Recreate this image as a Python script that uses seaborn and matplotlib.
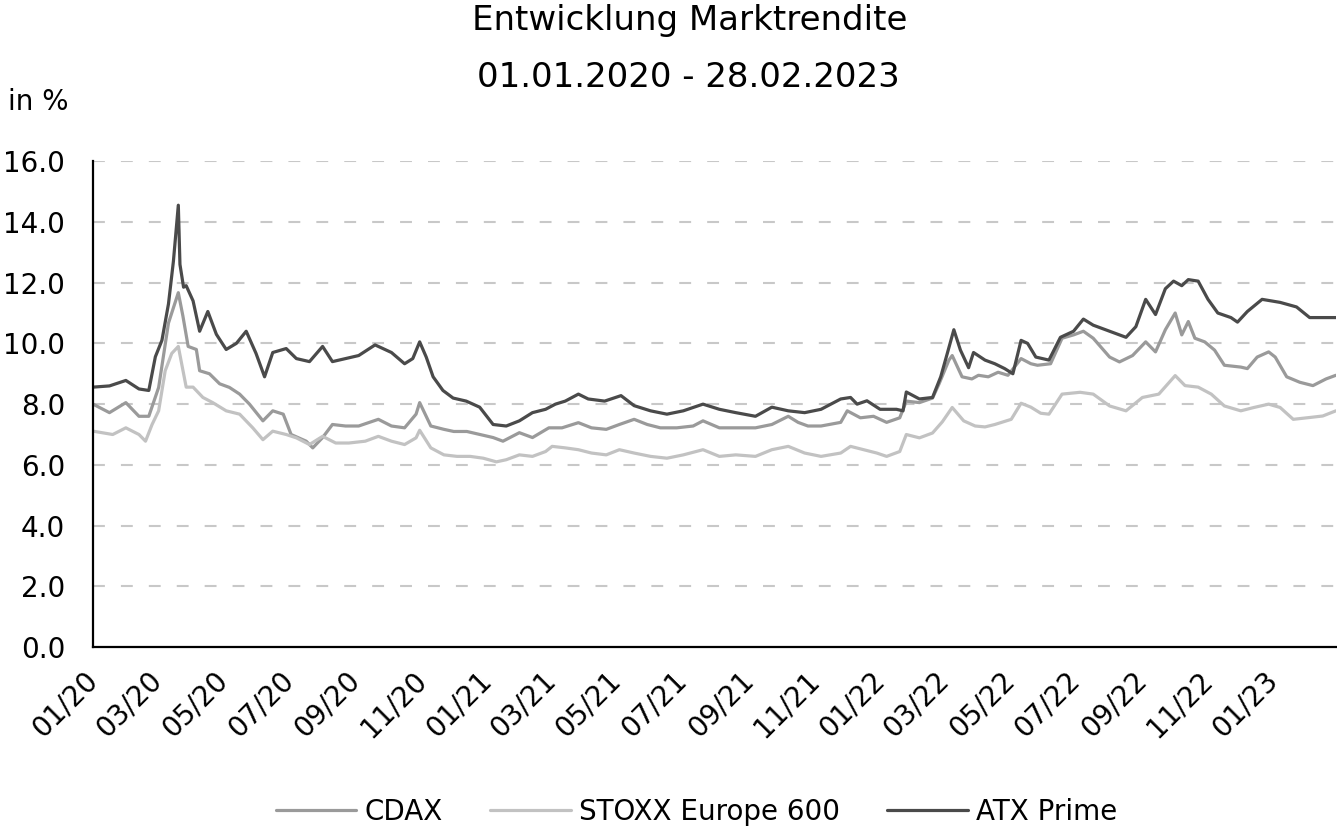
import numpy as np
import pandas as pd
import matplotlib
matplotlib.use("Agg")
import matplotlib.pyplot as plt
import matplotlib.dates as mdates
import seaborn as sns

# months since 01.01.2020 and yield in %
atx_months = [0.0, 0.5, 1.0, 1.4, 1.7, 1.9, 2.1, 2.3, 2.45, 2.6, 2.65, 2.76, 2.84, 3.05, 3.25,
              3.5, 3.76, 4.06, 4.37, 4.67, 4.97, 5.23, 5.48, 5.89, 6.2, 6.6, 7.0, 7.3, 7.7,
              8.1, 8.6, 9.1, 9.5, 9.75, 9.96, 10.16, 10.37, 10.67, 10.98, 11.38, 11.79, 12.2,
              12.6, 13.0, 13.4, 13.8, 14.1, 14.4, 14.8, 15.1, 15.6, 16.1, 16.5, 17.0, 17.5,
              18.0, 18.6, 19.1, 19.6, 20.2, 20.7, 21.2, 21.7, 22.2, 22.8, 23.1, 23.3, 23.6,
              24.0, 24.5, 24.7, 24.8, 25.2, 25.6, 25.85, 26.05, 26.25, 26.45, 26.7, 26.85,
              27.2, 27.5, 27.8, 28.05, 28.3, 28.5, 28.75, 29.15, 29.5, 29.9, 30.2, 30.5, 31.0,
              31.5, 31.8, 32.1, 32.4, 32.7, 32.95, 33.2, 33.4, 33.7, 34.0, 34.3, 34.7, 34.9,
              35.2, 35.65, 36.2, 36.7, 37.1, 37.5, 37.9]
atx_values = [8.56, 8.6, 8.78, 8.5, 8.45, 9.56, 10.1, 11.3, 12.7, 14.55, 12.6, 11.85, 11.9, 11.4, 10.4,
              11.05, 10.3, 9.8, 10.0, 10.4, 9.67, 8.9, 9.7, 9.83, 9.5, 9.4, 9.9, 9.4, 9.5,
              9.6, 9.95, 9.7, 9.33, 9.5, 10.05, 9.55, 8.9, 8.45, 8.2, 8.1, 7.9, 7.33,
              7.28, 7.45, 7.72, 7.83, 8.0, 8.1, 8.33, 8.17, 8.1, 8.28, 7.95, 7.78, 7.67,
              7.78, 8.0, 7.83, 7.72, 7.6, 7.9, 7.78, 7.72, 7.83, 8.17, 8.22, 8.0, 8.11,
              7.83, 7.83, 7.78, 8.4, 8.17, 8.22, 8.9, 9.67, 10.45, 9.78, 9.2, 9.7,
              9.45, 9.33, 9.17, 9.0, 10.1, 10.0, 9.55, 9.45, 10.2, 10.4, 10.8, 10.6, 10.4,
              10.2, 10.55, 11.45, 10.95, 11.8, 12.05, 11.9, 12.1, 12.05, 11.45, 11.0, 10.85, 10.7,
              11.05, 11.45, 11.35, 11.2, 10.85, 10.85, 10.85]

cdax_months = [0.0, 0.5, 1.0, 1.4, 1.7, 2.0, 2.3, 2.6, 2.74, 2.9, 3.15, 3.25, 3.55, 3.86, 4.16,
               4.47, 4.77, 5.18, 5.48, 5.8, 6.04, 6.5, 6.7, 7.0, 7.3, 7.7, 8.1, 8.7, 9.1, 9.5,
               9.85, 9.96, 10.3, 10.7, 11.0, 11.4, 11.8, 12.2, 12.5, 13.0, 13.4, 13.9, 14.3,
               14.8, 15.2, 15.65, 16.05, 16.5, 16.9, 17.3, 17.8, 18.3, 18.6, 19.1, 19.6, 20.2,
               20.7, 21.2, 21.5, 21.8, 22.2, 22.8, 23.0, 23.4, 23.8, 24.2, 24.6, 24.8, 25.2,
               25.6, 25.8, 26.1, 26.2, 26.5, 26.8, 27.0, 27.3, 27.6, 27.9, 28.3, 28.6, 28.8,
               29.2, 29.55, 29.9, 30.2, 30.5, 31.0, 31.3, 31.7, 32.1, 32.4, 32.7, 33.0, 33.2,
               33.4, 33.6, 33.9, 34.2, 34.5, 35.0, 35.2, 35.5, 35.85, 36.05, 36.4, 36.8, 37.2,
               37.6, 37.9]
cdax_values = [8.0, 7.72, 8.05, 7.6, 7.6, 8.55, 10.67, 11.67, 10.9, 9.9, 9.8, 9.1, 9.0, 8.67, 8.55,
               8.33, 8.0, 7.45, 7.78, 7.67, 7.0, 6.78, 6.56, 6.9, 7.33, 7.28, 7.28, 7.5, 7.28, 7.22,
               7.67, 8.05, 7.28, 7.17, 7.1, 7.1, 7.0, 6.9, 6.78, 7.06, 6.9, 7.22, 7.22,
               7.39, 7.22, 7.17, 7.33, 7.5, 7.33, 7.22, 7.22, 7.28, 7.45, 7.22, 7.22, 7.22,
               7.33, 7.6, 7.4, 7.28, 7.28, 7.4, 7.78, 7.55, 7.6, 7.4, 7.55, 8.1, 8.05,
               8.2, 8.67, 9.45, 9.6, 8.9, 8.83, 8.95, 8.9, 9.05, 8.95, 9.5, 9.33, 9.28,
               9.33, 10.17, 10.28, 10.4, 10.17, 9.55, 9.39, 9.6, 10.05, 9.72, 10.45, 11.0, 10.28,
               10.72, 10.17, 10.05, 9.78, 9.28, 9.22, 9.17, 9.55, 9.72, 9.55, 8.9, 8.72, 8.61,
               8.83, 8.95]

stoxx_months = [0.0, 0.6, 1.0, 1.4, 1.6, 1.8, 2.0, 2.2, 2.4, 2.6, 2.84, 3.05, 3.35, 3.65, 4.06,
                4.47, 4.87, 5.18, 5.48, 5.89, 6.2, 6.6, 7.0, 7.4, 7.8, 8.3, 8.7, 9.1, 9.5, 9.85,
                9.96, 10.3, 10.7, 11.1, 11.5, 11.9, 12.3, 12.6, 13.0, 13.4, 13.8, 14.0, 14.4,
                14.8, 15.2, 15.65, 16.05, 16.5, 17.0, 17.5, 18.0, 18.6, 19.1, 19.6, 20.2, 20.7,
                21.2, 21.7, 22.2, 22.8, 23.1, 23.5, 23.9, 24.2, 24.6, 24.8, 25.2, 25.6, 25.9,
                26.2, 26.55, 26.9, 27.2, 27.5, 28.0, 28.3, 28.6, 28.9, 29.15, 29.55, 30.1, 30.5,
                31.0, 31.5, 32.0, 32.5, 33.0, 33.3, 33.7, 34.1, 34.5, 35.0, 35.4, 35.85, 36.2,
                36.6, 37.1, 37.5, 37.9]
stoxx_values = [7.11, 7.0, 7.22, 7.0, 6.78, 7.33, 7.78, 9.1, 9.67, 9.9, 8.56, 8.56, 8.22, 8.05, 7.78,
                7.67, 7.22, 6.83, 7.11, 7.0, 6.89, 6.67, 6.94, 6.72, 6.72, 6.78, 6.94, 6.78, 6.67, 6.89,
                7.14, 6.56, 6.33, 6.28, 6.28, 6.22, 6.1, 6.17, 6.33, 6.28, 6.44, 6.61, 6.56,
                6.5, 6.39, 6.33, 6.5, 6.39, 6.28, 6.22, 6.33, 6.5, 6.28, 6.33, 6.28, 6.5,
                6.61, 6.39, 6.28, 6.39, 6.61, 6.5, 6.39, 6.28, 6.44, 7.0, 6.89, 7.05, 7.42,
                7.89, 7.45, 7.28, 7.25, 7.33, 7.5, 8.03, 7.9, 7.7, 7.67, 8.33, 8.39, 8.33,
                7.94, 7.78, 8.22, 8.33, 8.94, 8.61, 8.56, 8.33, 7.94, 7.78, 7.89, 8.0, 7.89,
                7.5, 7.56, 7.61, 7.78]

series_names = ["CDAX", "STOXX Europe 600", "ATX Prime"]
series_colors = ["#9a9a9a", "#c2c2c2", "#4a4a4a"]

start = pd.Timestamp("2020-01-01")
frames = []
for name, months, values in zip(series_names,
                                [cdax_months, stoxx_months, atx_months],
                                [cdax_values, stoxx_values, atx_values]):
    dates = start + pd.to_timedelta(np.array(months) * 30.4375, unit="D")
    frames.append(pd.DataFrame({"Datum": dates, "Rendite": values, "Index": name}))
df = pd.concat(frames, ignore_index=True)

sns.set_style("white")
plt.rcParams["font.family"] = ["DejaVu Sans"]
plt.rcParams["text.color"] = "black"
plt.rcParams["xtick.color"] = "black"
plt.rcParams["ytick.color"] = "black"

fig, ax = plt.subplots(figsize=(13.37, 8.35), dpi=100)
fig.subplots_adjust(left=0.0696, right=0.9995, bottom=0.225, top=0.807)

sns.lineplot(data=df, x="Datum", y="Rendite", hue="Index", hue_order=series_names,
             palette=series_colors, linewidth=2.3, ax=ax, sort=True, estimator=None)

ax.set_ylim(0, 16)
ax.set_xlim(start, pd.Timestamp("2023-02-28"))
ax.set_yticks(np.arange(0, 17, 2))
ax.yaxis.set_major_formatter(matplotlib.ticker.FormatStrFormatter("%.1f"))
ax.xaxis.set_major_locator(mdates.MonthLocator(bymonth=[1, 3, 5, 7, 9, 11]))
ax.xaxis.set_major_formatter(mdates.DateFormatter("%m/%y"))
ax.set_xlabel("")
ax.set_ylabel("")

for y in range(2, 17, 2):
    ax.axhline(y, color="#c8c8c8", linewidth=1.5, linestyle=(0, (5.7, 7.7)), zorder=0)

for side in ["top", "right"]:
    ax.spines[side].set_visible(False)
for side in ["left", "bottom"]:
    ax.spines[side].set_color("black")
    ax.spines[side].set_linewidth(1.6)

ax.tick_params(axis="y", direction="out", length=7, width=1.6, pad=13, labelsize=20, colors="black")
ax.tick_params(axis="x", direction="out", length=6.5, width=1.6, pad=14, labelsize=20, colors="black")
plt.setp(ax.get_xticklabels(), rotation=45, ha="right", va="center", rotation_mode="anchor")

handles, labels = ax.get_legend_handles_labels()
ax.get_legend().remove()
fig.legend(handles, labels, loc="center", bbox_to_anchor=(0.521, 0.028), ncol=3, frameon=False,
           fontsize=20, handlelength=2.9, handletextpad=0.3, columnspacing=1.7)

fig.text(0.516, 0.976, "Entwicklung Marktrendite", ha="center", va="center", fontsize=24.5, color="black")
fig.text(0.515, 0.907, "01.01.2020 - 28.02.2023", ha="center", va="center", fontsize=24.5, color="black")
fig.text(0.006, 0.878, "in %", ha="left", va="center", fontsize=20, color="black")

fig.savefig("out.png", dpi=100)
